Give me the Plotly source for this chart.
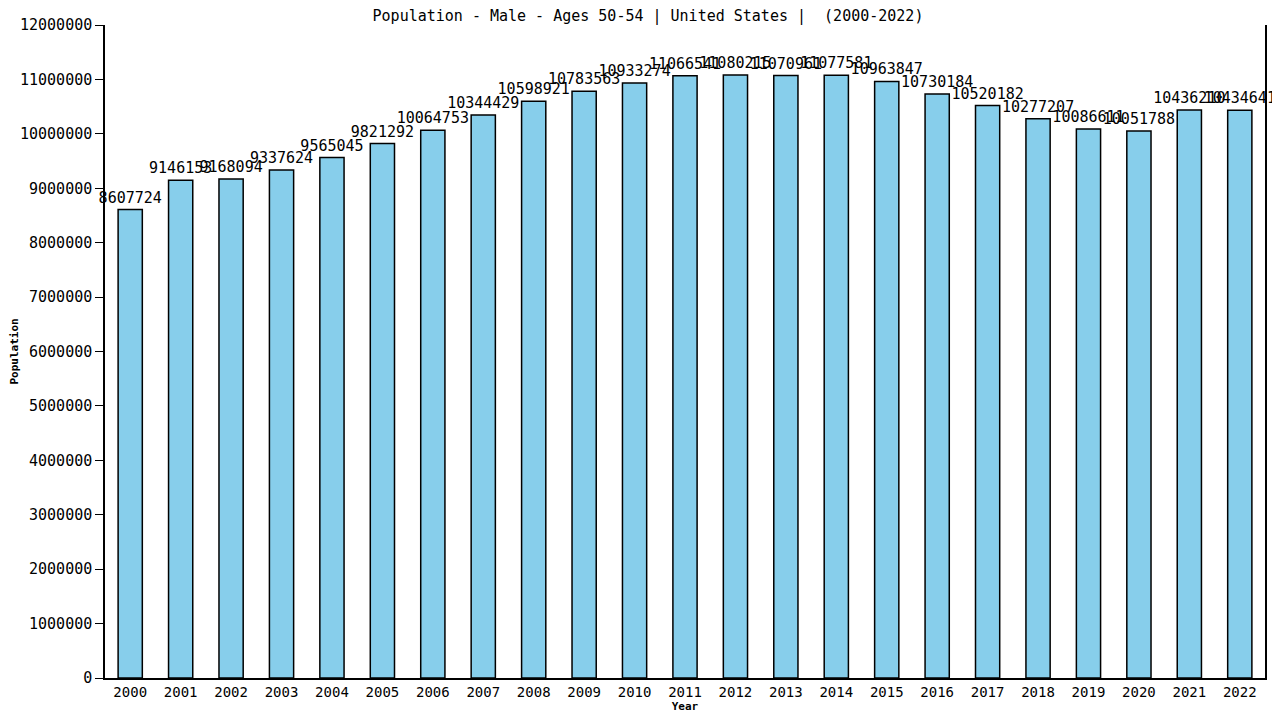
import plotly.graph_objects as go

years = [str(y) for y in range(2000, 2023)]
population = [8607724, 9146153, 9168094, 9337624, 9565045, 9821292, 10064753,
              10344429, 10598921, 10783563, 10933274, 11066541, 11080215,
              11070961, 11077581, 10963847, 10730184, 10520182, 10277207,
              10086611, 10051788, 10436210, 10434641]
y_ticks = list(range(0, 12000001, 1000000))

font_mono = "DejaVu Sans Mono, monospace"

fig = go.Figure()
fig.add_trace(go.Bar(
    x=years, y=population,
    width=0.48,
    marker=dict(color="#87CEEB", line=dict(color="black", width=1.5)),
    text=[str(v) for v in population],
    textposition="outside",
    textangle=0,
    textfont=dict(family=font_mono, size=15, color="black"),
    cliponaxis=False,
))

# page body adds 8px around the figure, so shift margins by 8
fig.update_layout(
    width=1280, height=712,
    paper_bgcolor="white", plot_bgcolor="white",
    margin=dict(l=97, r=23, t=17, b=42, autoexpand=False),
    title=dict(text="Population - Male - Ages 50-54 | United States |  (2000-2022)",
               x=0.5, xanchor="center", y=0.989, yanchor="middle",
               font=dict(family=font_mono, size=15, color="black")),
    showlegend=False,
    uniformtext=dict(minsize=15, mode="show"),
)
fig.update_xaxes(
    type="category", showline=True, linecolor="black", linewidth=1.5,
    ticks="", tickfont=dict(family=font_mono, size=14, color="black"),
    title=dict(text="<b>Year</b>", font=dict(family=font_mono, size=11, color="black"), standoff=4),
    showgrid=False, range=[-0.5, 22.5], automargin=False,
)
fig.update_yaxes(
    range=[0, 12000000], tickvals=y_ticks, ticktext=[str(v) for v in y_ticks],
    showline=True, mirror=True, linecolor="black", linewidth=1.5,
    ticks="outside", ticklen=8, tickcolor="black",
    tickfont=dict(family=font_mono, size=15, color="black"),
    title=dict(text="<b>Population</b>", font=dict(family=font_mono, size=11, color="black"), standoff=0),
    showgrid=False, zeroline=False, automargin=False,
)

fig.write_html("out.html")
